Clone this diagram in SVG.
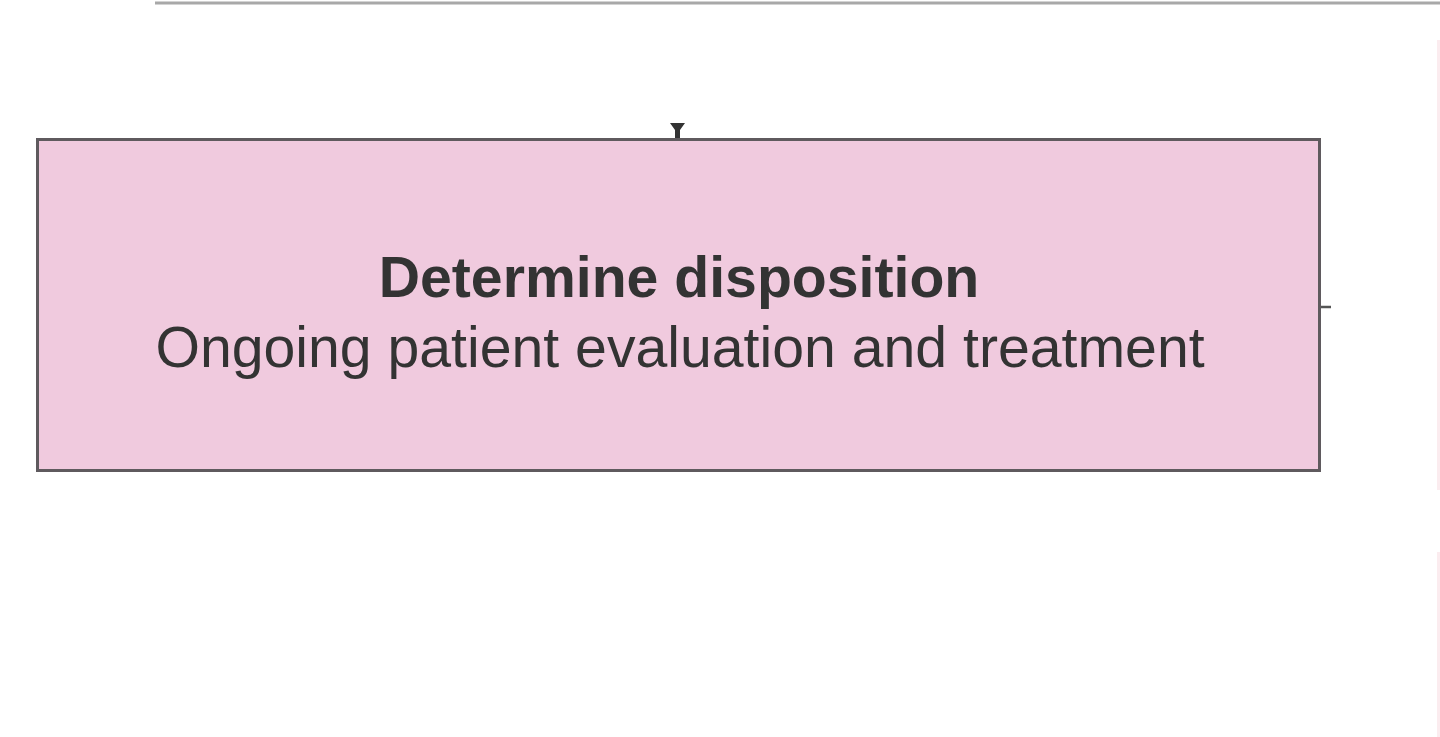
<svg xmlns="http://www.w3.org/2000/svg" width="1440" height="737" viewBox="0 0 1440 737">
<style>
.box{fill:#f0cade;stroke:#5f5a5e;stroke-width:3}
.t{font-family:"Liberation Sans",Arial,sans-serif;fill:#333;text-anchor:middle;font-size:57.2px}
.b{font-weight:bold}
.conn{stroke:#555;stroke-width:2.5;fill:none}
</style>
<rect width="1440" height="737" fill="#fff"/>
<line x1="155" y1="3" x2="1440" y2="3" stroke="#a8a8a8" stroke-width="3"/>
<rect x="1437" y="40" width="3" height="450" fill="#fbecef"/>
<rect x="1437" y="552" width="3" height="185" fill="#fbecef"/>
<g id="connectors">
<path d="M670,123 L685,123 L680,130 L680,139 L675,139 L675,130 Z" fill="#333"/>
<line class="conn" x1="1320" y1="307" x2="1331" y2="307"/>
</g>
<g id="node-disposition">
<rect class="box" x="37.5" y="139.5" width="1282" height="331"/>
<text class="t b" x="679" y="297">Determine disposition</text>
<text class="t" x="680" y="367">Ongoing patient evaluation and treatment</text>
</g>
</svg>
